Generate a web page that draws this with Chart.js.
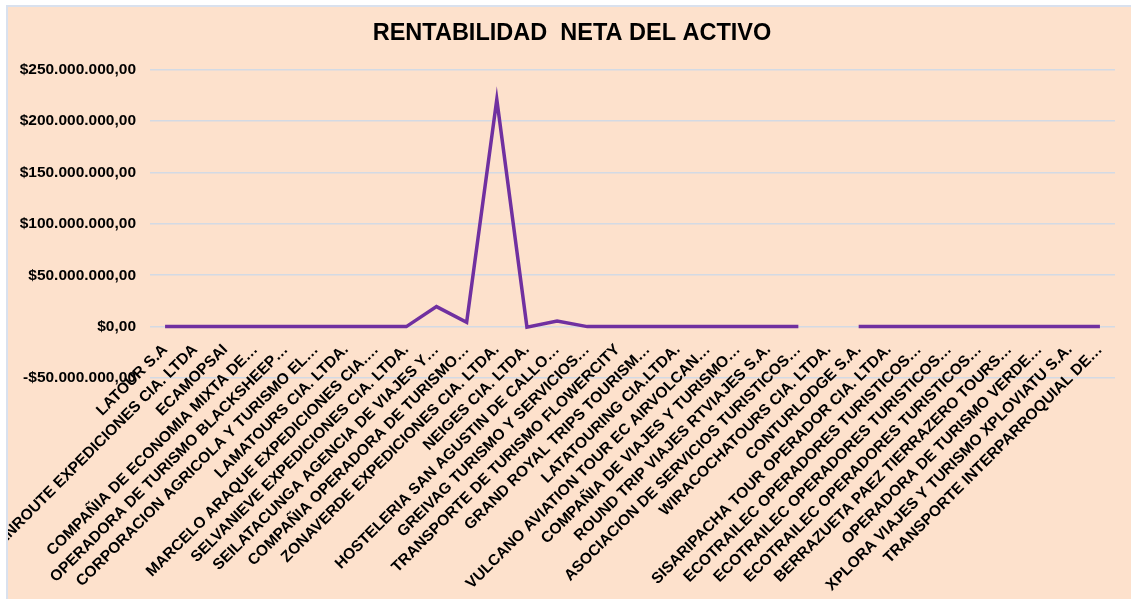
<!DOCTYPE html>
<html>
<head>
<meta charset="utf-8">
<script src="https://cdn.jsdelivr.net/npm/chart.js@4"></script>
<style>
  html,body{margin:0;padding:0;background:#fff;overflow:hidden;}
  #wrap{position:absolute;left:6px;top:5px;width:1123px;height:592px;
    border-left:2px solid #D9E1EE;border-top:2px solid #D9E1EE;background:#FDE1CC;}
  #wrap canvas{display:block;}
</style>
</head>
<body>
<div id="wrap"><canvas id="chart" width="1123" height="592"></canvas></div>
<script>
// categories as shown on the x axis (Excel truncates long names)
const empresas = [
  'LATOUR S.A',
  'ENROUTE EXPEDICIONES CIA. LTDA',
  'ECAMOPSAI',
  'COMPAÑIA DE ECONOMIA MIXTA DE…',
  'OPERADORA DE TURISMO BLACKSHEEP…',
  'CORPORACION AGRICOLA Y TURISMO EL…',
  'LAMATOURS CIA. LTDA.',
  'MARCELO ARAQUE EXPEDICIONES CIA.…',
  'SELVANIEVE EXPEDICIONES CIA. LTDA.',
  'SEILATACUNGA AGENCIA DE VIAJES Y…',
  'COMPAÑIA OPERADORA DE TURISMO…',
  'ZONAVERDE EXPEDICIONES CIA. LTDA.',
  'NEIGES CIA. LTDA.',
  'HOSTELERIA SAN AGUSTIN DE CALLO…',
  'GREIVAG TURISMO Y SERVICIOS…',
  'TRANSPORTE DE TURISMO FLOWERCITY',
  'GRAND ROYAL TRIPS TOURISM…',
  'LATATOURING CIA.LTDA.',
  'VULCANO AVIATION TOUR EC AIRVOLCAN…',
  'COMPAÑIA DE VIAJES Y TURISMO…',
  'ROUND TRIP VIAJES RTVIAJES S.A.',
  'ASOCIACION DE SERVICIOS TURISTICOS…',
  'WIRACOCHATOURS CIA. LTDA.',
  'CONTURLODGE S.A.',
  'SISARIPACHA TOUR OPERADOR CIA. LTDA.',
  'ECOTRAILEC OPERADORES TURISTICOS…',
  'ECOTRAILEC OPERADORES TURISTICOS…',
  'ECOTRAILEC OPERADORES TURISTICOS…',
  'BERRAZUETA PAEZ TIERRAZERO TOURS…',
  'OPERADORA DE TURISMO VERDE…',
  'XPLORA VIAJES Y TURISMO XPLOVIATU S.A.',
  'TRANSPORTE INTERPARROQUIAL DE…'
];

// rentabilidad neta del activo (null = no value)
const rentabilidad = [
  0, 0, 0, 0, 0, 0, 0, 0, 0,
  19500000, 4300000, 221000000, -500000, 5500000,
  0, 0, 0, 0, 0, 0, 0, 0,
  null,
  0, 0, 0, 0, 0, 0, 0, 0, 0
];

const yMin = -50000000, yMax = 250000000, yStep = 50000000;

function money(v){
  const neg = v < 0;
  const s = Math.abs(Math.round(v)).toString().replace(/\B(?=(\d{3})+(?!\d))/g, '.');
  return (neg ? '-' : '') + '$' + s + ',00';
}

const FONT = '"Liberation Sans", Arial, sans-serif';

// y labels are wider than the axis box (the left padding only recentres the title),
// so let the label clip area start at the canvas edge
const wideYLabels = {
  id: 'wideYLabels',
  afterLayout(chart){ chart.scales.y.left = 0; }
};

new Chart(document.getElementById('chart'), {
  type: 'line',
  data: {
    labels: empresas,
    datasets: [{
      data: rentabilidad,
      borderColor: '#7030A0',
      borderWidth: 3.5,
      pointRadius: 0,
      tension: 0,
      spanGaps: false,
      fill: false
    }]
  },
  options: {
    responsive: false,
    animation: false,
    layout: { padding: { left: 21, right: 16, top: 0, bottom: 221 } },
    plugins: {
      legend: { display: false },
      tooltip: { enabled: false },
      title: {
        display: true,
        text: 'RENTABILIDAD  NETA DEL ACTIVO',
        color: '#000',
        font: { family: FONT, size: 23.5, weight: 'bold' },
        padding: { top: 12.5, bottom: 22 }
      }
    },
    scales: {
      x: {
        position: { y: 0 },
        offset: true,
        grid: { display: false, drawTicks: false },
        border: { display: false },
        ticks: {
          autoSkip: false,
          maxRotation: 45,
          minRotation: 45,
          padding: 14,
          color: '#000',
          font: { family: FONT, size: 15.5, weight: 'bold' }
        }
      },
      y: {
        min: yMin,
        max: yMax,
        grid: { color: '#D3DAE4', lineWidth: 1.5, drawTicks: false },
        border: { display: false },
        ticks: {
          stepSize: yStep,
          padding: 14,
          color: '#000',
          font: { family: FONT, size: 15.5, weight: 'bold' },
          callback: v => money(v)
        },
        afterFit: s => { s.width = 121; }
      }
    }
  },
  plugins: [wideYLabels]
});
</script>
</body>
</html>
